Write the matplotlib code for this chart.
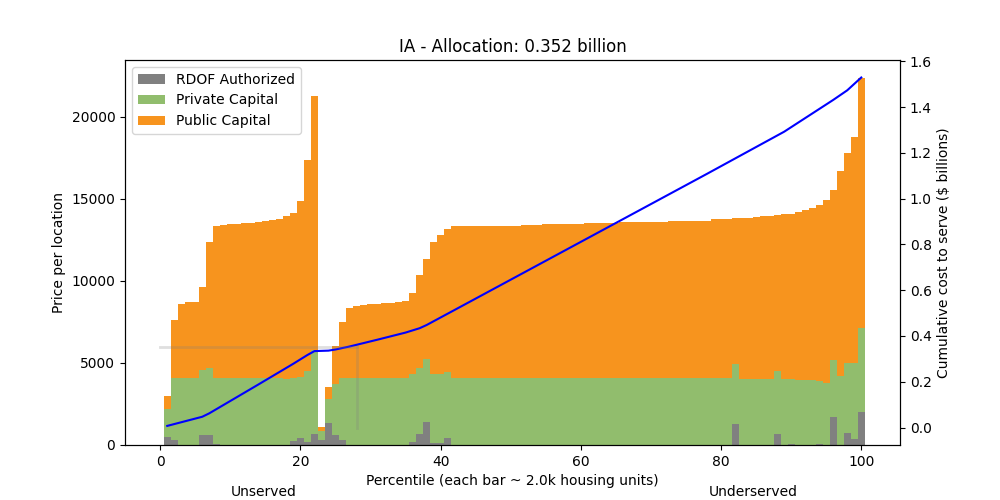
import matplotlib.pyplot as plt

# bars: one per percentile, each ~2.0k housing units
percentile = list(range(1, 101))

price_per_location = [
    2977, 7594, 8566, 8687, 8687, 9599, 12393, 13365, 13426, 13467,
    13467, 13507, 13548, 13588, 13649, 13709, 13770, 13952, 14155, 14884,
    17375, 21263, 1094, 3524, 6014, 7472, 8323, 8444, 8505, 8566,
    8606, 8627, 8667, 8708, 8748, 9234, 10328, 11360, 12352, 12818,
    13183, 13324, 13324, 13324, 13365, 13365, 13365, 13365, 13365, 13365,
    13365, 13426, 13426, 13426, 13487, 13487, 13487, 13487, 13487, 13487,
    13547, 13547, 13547, 13547, 13547, 13567, 13567, 13567, 13567, 13567,
    13567, 13567, 13668, 13668, 13668, 13668, 13668, 13668, 13770, 13770,
    13770, 13851, 13851, 13851, 13892, 13952, 13952, 14033, 14074, 14074,
    14195, 14337, 14459, 14621, 14945, 15552, 16706, 17800, 18772, 22336,
]

private_capital = [
    2187, 4090, 4090, 4090, 4090, 4597, 4698, 4090, 4090, 4090,
    4090, 4090, 4090, 4090, 4090, 4090, 4090, 4010, 4090, 4150,
    4496, 5790, 851, 2795, 3746, 4100, 4100, 4100, 4100, 4100,
    4100, 4100, 4100, 4100, 4100, 4354, 4698, 5224, 4354, 4313,
    4455, 4100, 4100, 4100, 4100, 4100, 4100, 4100, 4100, 4100,
    4100, 4100, 4100, 4100, 4100, 4100, 4100, 4100, 4100, 4100,
    4100, 4100, 4100, 4100, 4100, 4100, 4100, 4100, 4100, 4100,
    4100, 4100, 4100, 4100, 4100, 4100, 4100, 4100, 4100, 4100,
    4100, 4940, 4020, 4020, 4020, 4020, 4020, 4495, 4010, 4010,
    3970, 3970, 3930, 3890, 3790, 5180, 4230, 4980, 4980, 7130,
]

rdof_authorized = [
    506, 304, 0, 0, 0, 607, 607, 61, 0, 0,
    0, 0, 0, 0, 0, 0, 0, 0, 243, 425,
    182, 668, 304, 1337, 608, 304, 0, 0, 0, 0,
    0, 0, 0, 0, 0, 162, 688, 1418, 121, 121,
    445, 0, 0, 0, 0, 0, 0, 0, 0, 0,
    0, 0, 0, 0, 0, 0, 0, 0, 0, 0,
    0, 0, 0, 0, 0, 0, 0, 0, 0, 0,
    0, 0, 0, 0, 0, 0, 0, 0, 0, 0,
    0, 1276, 0, 0, 0, 0, 0, 668, 0, 61,
    0, 0, 0, 61, 0, 1701, 0, 729, 365, 2005,
]

# cumulative cost line ($ billions), read at its knots
cum_x = [1, 6, 7, 9, 14, 19, 20, 21, 22, 23, 24, 25, 27, 29, 31, 35, 37, 38,
         40, 42, 78, 89, 96, 98, 100]
cum_cost = [0.007, 0.047, 0.062, 0.098, 0.188, 0.279, 0.298, 0.317, 0.334, 0.335,
            0.336, 0.341, 0.354, 0.369, 0.384, 0.415, 0.434, 0.448,
            0.481, 0.514, 1.109, 1.293, 1.432, 1.474, 1.530]

allocation = 0.352
allocation_pct = 28

ORANGE = "#f7941e"
GREEN = "#91bd6d"


def main() -> None:
    fig, ax = plt.subplots(figsize=(10, 5))

    public = ax.bar(percentile, price_per_location, width=1, color=ORANGE, label="Public Capital")
    private = ax.bar(percentile, private_capital, width=1, color=GREEN, label="Private Capital")
    rdof = ax.bar(percentile, rdof_authorized, width=1, color="gray", label="RDOF Authorized")

    ax.set_title("IA - Allocation: 0.352 billion")
    ax.set_xlabel("Percentile (each bar ~ 2.0k housing units)")
    ax.set_ylabel("Price per location")
    ax.legend(handles=[rdof, private, public], loc="upper left")

    ax2 = ax.twinx()
    ax2.plot(cum_x, cum_cost, color="blue", linewidth=1.5)
    ax2.plot([0, allocation_pct], [allocation, allocation], color="gray", alpha=0.25, linewidth=2)
    ax2.plot([allocation_pct, allocation_pct], [0, allocation], color="gray", alpha=0.25, linewidth=2)
    ax2.set_ylabel("Cumulative cost to serve ($ billions)")

    # region labels sit at the very bottom edge of the figure
    fig.text(0.264, 0.001, "Unserved", ha="center", va="bottom")
    fig.text(0.753, 0.001, "Underserved", ha="center", va="bottom")

    fig.savefig("out.png", dpi=100)
    plt.close(fig)


if __name__ == "__main__":
    main()
